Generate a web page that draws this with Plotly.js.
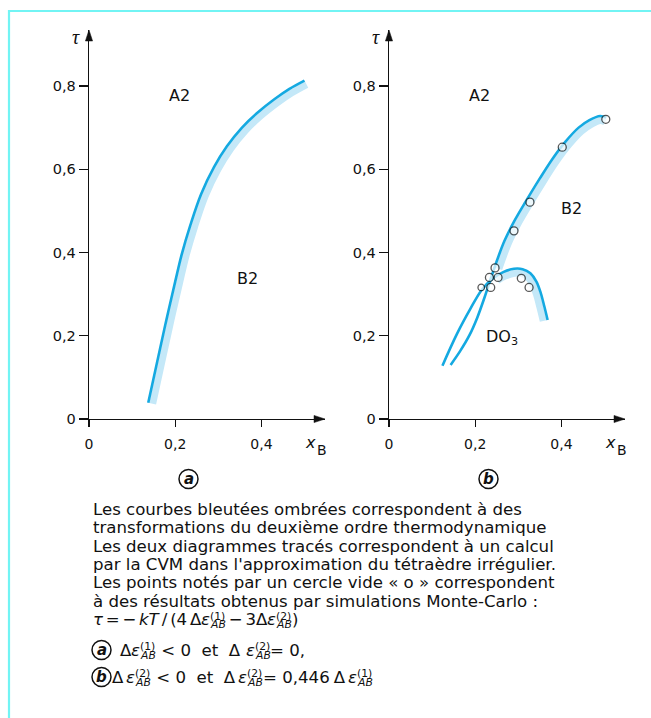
<!DOCTYPE html>
<html><head><meta charset="utf-8">
<script src="https://cdn.plot.ly/plotly-3.0.1.min.js"></script>
<style>html,body{margin:0;padding:0;background:#fff;}#chart{width:651px;height:718px;}</style>
</head><body><div id="chart"></div>
<script>
// ---------- data ----------
const yTickVals = [0, 0.2, 0.4, 0.6, 0.8];
const yTickText = ['0', '0,2', '0,4', '0,6', '0,8'];
const xTickVals = [0, 0.2, 0.4];
const xTickText = ['0', '0,2', '0,4'];

// panel a : A2 / B2 transition line (computed) and its shaded band
const aLineX = [0.1375, 0.160, 0.180, 0.200, 0.215, 0.235, 0.260, 0.290, 0.320, 0.355, 0.390, 0.430, 0.465, 0.500];
const aLineY = [0.039, 0.146, 0.240, 0.330, 0.395, 0.465, 0.540, 0.605, 0.655, 0.700, 0.735, 0.768, 0.793, 0.813];
const aBandX = [0.1477, 0.1702, 0.1902, 0.2102, 0.2251, 0.2449, 0.2697, 0.2992, 0.3286, 0.3628, 0.3969, 0.4362, 0.4705, 0.5050];
const aBandY = [0.0367, 0.1437, 0.2376, 0.3275, 0.3922, 0.4617, 0.5360, 0.5998, 0.6488, 0.6928, 0.7269, 0.7593, 0.7838, 0.8035];

// panel b : A2 / B2 line and band
const bB2LineX = [0.143, 0.165, 0.187, 0.205, 0.222, 0.237, 0.252, 0.268, 0.290, 0.317, 0.350, 0.380, 0.410, 0.440, 0.465, 0.490, 0.504];
const bB2LineY = [0.130, 0.163, 0.202, 0.244, 0.293, 0.340, 0.385, 0.428, 0.474, 0.522, 0.578, 0.626, 0.667, 0.700, 0.718, 0.728, 0.724];
const bB2BandX = [0.2549, 0.2776, 0.2992, 0.3260, 0.3589, 0.3886, 0.4180, 0.4469, 0.4700, 0.4905, 0.5012];
const bB2BandY = [0.3605, 0.4237, 0.4689, 0.5165, 0.5723, 0.6198, 0.6601, 0.6918, 0.7085, 0.7172, 0.7136];
// panel b : DO3 line and band
const bDO3LineX = [0.124, 0.158, 0.189, 0.215, 0.240, 0.265, 0.290, 0.310, 0.328, 0.342, 0.352, 0.360, 0.368];
const bDO3LineY = [0.128, 0.205, 0.265, 0.310, 0.337, 0.353, 0.361, 0.360, 0.350, 0.330, 0.303, 0.272, 0.238];
const bDO3BandX = [0.2514, 0.2694, 0.2913, 0.3071, 0.3207, 0.3327, 0.3420, 0.3499, 0.3579];
const bDO3BandY = [0.3324, 0.3432, 0.3503, 0.3496, 0.3422, 0.3250, 0.2998, 0.2694, 0.2354];
// panel b : Monte-Carlo points
const mcX = [0.503, 0.402, 0.327, 0.290, 0.246, 0.233, 0.253, 0.236, 0.214, 0.307, 0.325];
const mcY = [0.720, 0.653, 0.521, 0.452, 0.363, 0.340, 0.340, 0.316, 0.316, 0.338, 0.316];

// ---------- helpers ----------
const W = 651, H = 718;
const FONT = 'DejaVu Sans';
const px = v => v / W;
const py = v => 1 - v / H;
const DARK = '#14a9e1', LIGHT = '#c4e8f8';
const annotations = [];
const shapes = [];

const ctx = document.createElement('canvas').getContext('2d');
function tw(t, size, it, bold) {
  ctx.font = (it ? 'italic ' : '') + (bold ? 'bold ' : '') + size + 'px "' + FONT + '"';
  return ctx.measureText(t).width;
}
// place text with left edge at x and given baseline
function putText(x, base, t, size, it, bold) {
  annotations.push({
    xref: 'paper', yref: 'paper', x: px(x), y: py(base - 0.346 * size),
    xanchor: 'left', yanchor: 'middle', showarrow: false, borderpad: 0, borderwidth: 0,
    text: t,
    font: {family: FONT, size: size, color: '#111', style: it ? 'italic' : 'normal', weight: bold ? 700 : 400}
  });
}
const BS = 16.6, SS = 10.8;
function richLine(x0, base, segs, sp) {
  let x = x0;
  for (const s of segs) {
    if (s.st) {
      putText(x, base - 5.5, s.st[0], SS, false);
      putText(x, base + 3, s.st[1], SS, true);
      x += Math.max(tw(s.st[0], SS), tw(s.st[1], SS, true)) + 0.5;
    } else {
      const t = s.t.replace(/ /g, sp || '\u00A0');
      putText(x, base, t, BS, s.i, s.b);
      x += tw(t, BS, s.i, s.b);
    }
  }
}
function circLabel(cx, cy, letter) {
  const r = 9.5;
  shapes.push({type: 'circle', xref: 'paper', yref: 'paper', x0: px(cx - r), x1: px(cx + r), y0: py(cy + r), y1: py(cy - r),
    line: {color: '#111', width: 1.5}, fillcolor: 'rgba(0,0,0,0)'});
  annotations.push({xref: 'paper', yref: 'paper', x: px(cx), y: py(cy), xanchor: 'center', yanchor: 'middle',
    showarrow: false, borderpad: 0, borderwidth: 0, text: letter,
    font: {family: FONT, size: 15, color: '#111', style: 'italic', weight: 700}});
}
function arrowHead(tipx, tipy, dir) {
  let p;
  if (dir === 'up') p = `M${px(tipx)},${py(tipy)} L${px(tipx - 3.6)},${py(tipy + 11)} L${px(tipx + 3.6)},${py(tipy + 11)} Z`;
  else p = `M${px(tipx)},${py(tipy)} L${px(tipx - 11)},${py(tipy - 3.6)} L${px(tipx - 11)},${py(tipy + 3.6)} Z`;
  shapes.push({type: 'path', xref: 'paper', yref: 'paper', path: p, fillcolor: '#111', line: {color: '#111', width: 0.5}});
}

// ---------- geometry ----------
const XS = 431, YS = 416.25;
const Y0 = 419, YTOP = 30;
const axLeft = [89, 389];
const XTIP = 236;

function xAxis(i) {
  return {domain: [px(axLeft[i]), px(axLeft[i] + XTIP)], range: [0, XTIP / XS], anchor: i ? 'y2' : 'y',
    showline: true, linecolor: '#111', linewidth: 1.3, ticks: 'outside', ticklen: 7, tickwidth: 1.3, tickcolor: '#111',
    tickvals: xTickVals, ticktext: xTickText, tickfont: {family: FONT, size: 14, color: '#111'}, ticklabelstandoff: 5,
    showgrid: false, zeroline: false, fixedrange: true};
}
function yAxis(i) {
  return {domain: [py(Y0), py(YTOP)], range: [0, (Y0 - YTOP) / YS], anchor: i ? 'x2' : 'x',
    showline: true, linecolor: '#111', linewidth: 1.3, ticks: 'outside', ticklen: 9, tickwidth: 1.3, tickcolor: '#111',
    tickvals: yTickVals, ticktext: yTickText, tickfont: {family: FONT, size: 14.5, color: '#111'},
    showgrid: false, zeroline: false, fixedrange: true};
}

for (let i = 0; i < 2; i++) {
  const x0 = axLeft[i];
  arrowHead(x0, YTOP, 'up');
  arrowHead(x0 + XTIP, Y0, 'right');
  annotations.push({xref: 'paper', yref: 'paper', x: px(x0 - 13), y: py(37), xanchor: 'center', yanchor: 'middle',
    showarrow: false, text: 'τ', font: {family: 'Liberation Serif', size: 20, style: 'italic', color: '#111'}});
  annotations.push({xref: 'paper', yref: 'paper', x: px(x0 + 216), y: py(442), xanchor: 'left', yanchor: 'middle',
    showarrow: false, borderpad: 0, borderwidth: 0, text: 'x', font: {family: FONT, size: 16, style: 'italic', color: '#111'}});
  annotations.push({xref: 'paper', yref: 'paper', x: px(x0 + 227.5), y: py(450), xanchor: 'left', yanchor: 'middle',
    showarrow: false, borderpad: 0, borderwidth: 0, text: 'B', font: {family: FONT, size: 14, color: '#111'}});
  circLabel(x0 + 99.5, 479, i ? 'b' : 'a');
}

// region labels
const lab = (xr, yr, x, y, t) => annotations.push({xref: xr, yref: yr, x: x, y: y, showarrow: false,
  text: t, font: {family: FONT, size: 16, color: '#111'}});
lab('x', 'y', 0.209, 0.778, 'A2');
lab('x', 'y', 0.367, 0.338, 'B2');
lab('x2', 'y2', 0.211, 0.778, 'A2');
lab('x2', 'y2', 0.4225, 0.506, 'B2');
lab('x2', 'y2', 0.262, 0.196, 'DO<sub>3</sub>');

// frame (cyan)
shapes.push({type: 'line', xref: 'paper', yref: 'paper', x0: px(8), x1: 1, y0: py(11), y1: py(11), line: {color: '#72f4f4', width: 2.2}});
shapes.push({type: 'line', xref: 'paper', yref: 'paper', x0: px(9), x1: px(9), y0: py(10), y1: 0, line: {color: '#72f4f4', width: 2.2}});

// caption
const bodyLines = [
  'Les courbes bleutées ombrées correspondent à des',
  'transformations du deuxième ordre thermodynamique',
  'Les deux diagrammes tracés correspondent à un calcul',
  "par la CVM dans l'approximation du tétraèdre irrégulier.",
  'Les points notés par un cercle vide « o » correspondent',
  'à des résultats obtenus par simulations Monte-Carlo :'
];
bodyLines.forEach((t, k) => richLine(93, 515 + k * 18.4, [{t: t}]));
richLine(93, 625.5, [{t: 'τ', i: 1}, {t: ' = − '}, {t: 'kT', i: 1}, {t: ' / (4 Δ'}, {t: 'ε', i: 1}, {st: ['(1)', 'AB']},
  {t: ' − 3Δ'}, {t: 'ε', i: 1}, {st: ['(2)', 'AB']}, {t: ')'}], '\u2006');
circLabel(101.5, 650, 'a');
richLine(120, 656, [{t: 'Δ'}, {t: 'ε', i: 1}, {st: ['(1)', 'AB']}, {t: ' < 0  et  Δ '}, {t: 'ε', i: 1}, {st: ['(2)', 'AB']}, {t: '= 0,'}]);
circLabel(101.5, 677, 'b');
richLine(112, 683, [{t: 'Δ\u2006'}, {t: 'ε', i: 1}, {st: ['(2)', 'AB']}, {t: ' < 0  et  Δ\u2006'}, {t: 'ε', i: 1}, {st: ['(2)', 'AB']},
  {t: '= 0,446\u2005Δ\u2006'}, {t: 'ε', i: 1}, {st: ['(1)', 'AB']}]);

// ---------- traces ----------
const band = (x, y, xa, ya) => ({x: x, y: y, xaxis: xa, yaxis: ya, type: 'scatter', mode: 'lines',
  line: {color: LIGHT, width: 7, shape: 'spline', smoothing: 1}, hoverinfo: 'skip'});
const dark = (x, y, xa, ya) => ({x: x, y: y, xaxis: xa, yaxis: ya, type: 'scatter', mode: 'lines',
  line: {color: DARK, width: 2.6, shape: 'spline', smoothing: 1}, hoverinfo: 'skip'});

const data = [
  band(aBandX, aBandY, 'x', 'y'),
  dark(aLineX, aLineY, 'x', 'y'),
  band(bB2BandX, bB2BandY, 'x2', 'y2'),
  band(bDO3BandX, bDO3BandY, 'x2', 'y2'),
  dark(bB2LineX, bB2LineY, 'x2', 'y2'),
  dark(bDO3LineX, bDO3LineY, 'x2', 'y2'),
  {x: mcX, y: mcY, xaxis: 'x2', yaxis: 'y2', type: 'scatter', mode: 'markers', hoverinfo: 'skip',
   marker: {symbol: 'circle', size: [8, 8, 8, 8, 8, 8, 8, 8, 6.5, 8, 8], color: '#fff', line: {color: '#111', width: 1.3}}}
];

const layout = {
  width: W, height: H, margin: {l: 0, r: 0, t: 0, b: 0},
  paper_bgcolor: '#fff', plot_bgcolor: 'rgba(0,0,0,0)', showlegend: false, hovermode: false,
  xaxis: xAxis(0), yaxis: yAxis(0), xaxis2: xAxis(1), yaxis2: yAxis(1),
  annotations: annotations, shapes: shapes
};
Plotly.newPlot('chart', data, layout, {staticPlot: true, displayModeBar: false});
</script>
</body></html>
